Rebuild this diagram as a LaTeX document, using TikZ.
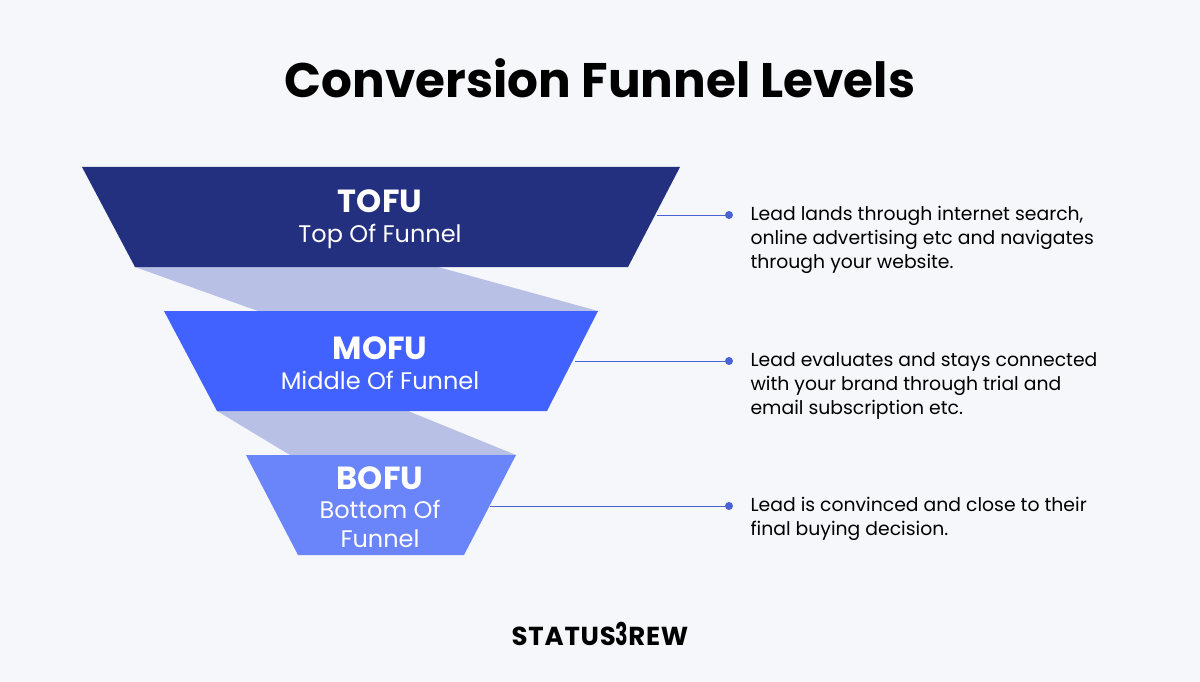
\documentclass[tikz,border=0pt]{standalone}
\usepackage{fontspec}
\setmainfont{Poppins}
\begin{document}
\begin{tikzpicture}[x=1pt,y=-1pt,
  lbl/.style={text=white,align=center,font=\fontsize{24}{30}\selectfont},
  conn/.style={draw=lineblue,line width=0.8pt},
  desc/.style={anchor=north west,align=left,font=\fontsize{18.8}{24}\selectfont,text=black},
  dotn/.style={circle,fill=lineblue,inner sep=0pt,minimum size=8pt}]
\definecolor{bg}{HTML}{F5F7FB}
\definecolor{tofu}{HTML}{232F7F}
\definecolor{mofu}{HTML}{4262FF}
\definecolor{bofu}{HTML}{6A84FA}
\definecolor{shadecol}{HTML}{B8C0E6}
\definecolor{lineblue}{HTML}{4A62D8}
\fill[bg] (0,0) rectangle (1200,682);
\useasboundingbox (0,0) rectangle (1200,682);
\node[font=\bfseries\fontsize{48.5}{54}\selectfont] (title) at (600,78) {Conversion Funnel Levels};
\fill[shadecol] (135,267) -- (438,267) -- (598,311) -- (258,311) -- cycle;
\fill[shadecol] (217,411) -- (408,411) -- (516,455) -- (290,455) -- cycle;
\fill[tofu] (82,167) -- (680,167) -- (628,267) -- (135,267) -- cycle;
\fill[mofu] (164,311) -- (598,311) -- (547,411) -- (217,411) -- cycle;
\fill[bofu] (246,455) -- (516,455) -- (464,555) -- (298,555) -- cycle;
\node[lbl] (t) at (380,219) {\textbf{\fontsize{32}{36}\selectfont TOFU}\\Top Of Funnel};
\node[lbl] (m) at (380,363) {\textbf{\fontsize{32}{36}\selectfont MOFU}\\Middle Of Funnel};
\node[lbl,font=\fontsize{24}{29}\selectfont] (b) at (380,507) {\textbf{\fontsize{32}{36}\selectfont BOFU}\\Bottom Of\\Funnel};
\coordinate (t1) at (657,215); \node[dotn] (td) at (729,215) {};
\coordinate (m1) at (575,361); \node[dotn] (md) at (729,361) {};
\coordinate (b1) at (490,506); \node[dotn] (bd) at (729,506) {};
\draw[conn] (t1) -- (td); \draw[conn] (m1) -- (md); \draw[conn] (b1) -- (bd);
\node[desc] (tt) at (747,203) {Lead lands through internet search,\\online advertising etc and navigates\\through your website.};
\node[desc] (mt) at (747,349) {Lead evaluates and stays connected\\with your brand through trial and\\email subscription etc.};
\node[desc] (bt) at (747,494) {Lead is convinced and close to their\\final buying decision.};
\node[font=\bfseries\fontsize{26}{30}\selectfont\addfontfeature{LetterSpace=3}] (logo) at (600,634) {STATUS\scalebox{0.8}[1.2]{3}REW};
\end{tikzpicture}
\end{document}
